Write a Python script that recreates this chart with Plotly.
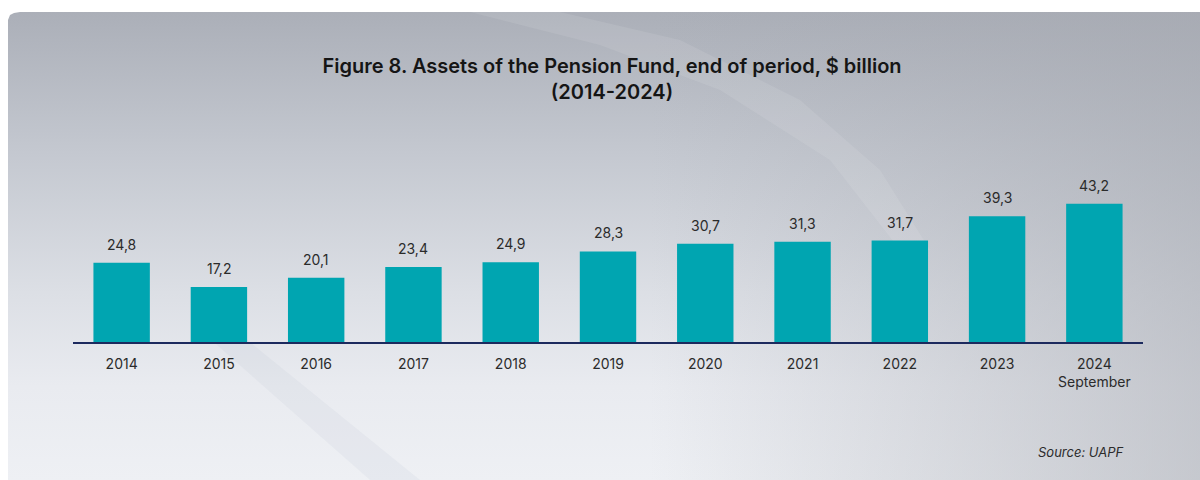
import plotly.graph_objects as go

years = ["2014", "2015", "2016", "2017", "2018", "2019", "2020", "2021", "2022", "2023", "2024<br>September"]
assets = [24.8, 17.2, 20.1, 23.4, 24.9, 28.3, 30.7, 31.3, 31.7, 39.3, 43.2]

title_text = "Figure 8. Assets of the Pension Fund, end of period, $ billion<br>(2014-2024)"
source_text = "Source: UAPF"

W, H = 1200, 480
bar_color = "#00a5b1"
axis_color = "#1c2a5e"
text_color = "#2b2b2b"
font_family = "Inter, 'Open Sans', sans-serif"

fig = go.Figure()

# background card (pixel axes x/y), white strip on top and left
card_x = [8, 8, 10, 14, 20, W, W, 8]
card_y = [H, 20, 15, 13, 12, 12, H, H]
fig.add_trace(go.Scatter(
    x=card_x, y=card_y, fill="toself", mode="lines", line=dict(width=0),
    fillgradient=dict(type="vertical", colorscale=[
        [0.0, "#eef0f4"], [0.2, "#e9ebf0"], [0.4, "#dcdfe5"], [0.7, "#c4c8d0"], [1.0, "#abafb8"]]),
    hoverinfo="skip", showlegend=False, xaxis="x", yaxis="y",
))
# darker right side
fig.add_trace(go.Scatter(
    x=[650, W, W, 650, 650], y=[12, 12, H, H, 12], fill="toself", mode="lines", line=dict(width=0),
    fillgradient=dict(type="horizontal", colorscale=[
        [0.0, "rgba(165,168,176,0)"], [1.0, "rgba(165,168,176,0.55)"]]),
    hoverinfo="skip", showlegend=False, xaxis="x", yaxis="y",
))
# light arc at the top
fig.add_trace(go.Scatter(
    x=[470, 560, 680, 800, 880, 930, 900, 830, 720, 600, 470],
    y=[12, 12, 40, 100, 170, 250, 250, 160, 90, 45, 12],
    fill="toself", mode="lines", line=dict(width=0),
    fillcolor="rgba(255,255,255,0.09)",
    hoverinfo="skip", showlegend=False, xaxis="x", yaxis="y",
))
# faint darker streak lower left
fig.add_trace(go.Scatter(
    x=[200, 235, 420, 370, 200], y=[330, 330, H, H, 330],
    fill="toself", mode="lines", line=dict(width=0),
    fillcolor="rgba(170,175,195,0.1)",
    hoverinfo="skip", showlegend=False, xaxis="x", yaxis="y",
))

fig.add_trace(go.Bar(
    x=years, y=assets, marker=dict(color=bar_color, line=dict(width=0)),
    width=0.58, xaxis="x2", yaxis="y2", showlegend=False, hoverinfo="x+y",
))

# value labels above bars (x given as category index)
for i, v in enumerate(assets):
    fig.add_annotation(
        x=i, y=v, xref="x2", yref="y2", text=f"{v:.1f}".replace(".", ","),
        showarrow=False, yanchor="bottom", yshift=8,
        font=dict(size=14, color=text_color, family=font_family),
    )

fig.add_annotation(
    x=1126 / W, y=1 - 452 / H, xref="paper", yref="paper", text=f"<i>{source_text}</i>",
    showarrow=False, xanchor="right", yanchor="middle",
    font=dict(size=13, color=text_color, family=font_family),
)

fig.update_layout(
    width=W, height=H,
    margin=dict(l=0, r=0, t=0, b=0),
    paper_bgcolor="white", plot_bgcolor="rgba(0,0,0,0)",
    separators=",.",
    title=dict(
        text=title_text, x=0.51, xanchor="center", y=1 - 73 / H, yanchor="middle",
        font=dict(size=20, color="#151515", family=font_family, weight=600),
    ),
    xaxis=dict(domain=[0, 1], range=[0, W], visible=False, fixedrange=True),
    yaxis=dict(domain=[0, 1], range=[H, 0], visible=False, fixedrange=True),
    xaxis2=dict(
        domain=[73 / W, 1143 / W], anchor="y2", type="category",
        range=[-0.5, len(years) - 0.5],
        showline=True, linecolor=axis_color, linewidth=2, showgrid=False,
        ticks="", ticklabelstandoff=8,
        tickfont=dict(size=14, color=text_color, family=font_family),
    ),
    yaxis2=dict(
        domain=[138 / H, 298 / H], anchor="x2", range=[0, 50],
        visible=False, showgrid=False, zeroline=False,
    ),
    showlegend=False,
)

fig.write_html("out.html", config={"displayModeBar": False},
               post_script="document.body.style.margin='0';")
